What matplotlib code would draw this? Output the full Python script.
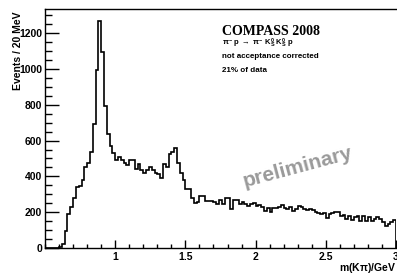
import numpy as np
import matplotlib
matplotlib.use("Agg")
import matplotlib.pyplot as plt
from matplotlib.ticker import MultipleLocator, FixedLocator

plt.rcParams['font.family'] = ['Liberation Sans', 'DejaVu Sans']
plt.rcParams['mathtext.fontset'] = 'custom'
plt.rcParams['mathtext.rm'] = 'Liberation Sans:bold'
plt.rcParams['mathtext.it'] = 'Liberation Sans:bold'
plt.rcParams['mathtext.bf'] = 'Liberation Sans:bold'

# binning of the histogram (GeV)
mass_low = 0.5
mass_high = 3.0
n_bins = 125

# events per 20 MeV bin
counts = [
    0, 0, 0, 0, 0, 8, 25, 97, 192, 229,
    282, 338, 345, 378, 453, 477, 535, 693, 997, 1268,
    1096, 792, 636, 568, 531, 494, 509, 494, 475, 464,
    490, 490, 444, 470, 434, 420, 437, 453, 434, 420,
    416, 391, 470, 453, 526, 535, 561, 472, 421, 378,
    330, 330, 282, 253, 257, 289, 290, 260, 263, 262,
    257, 248, 268, 246, 278, 282, 220, 270, 267, 248,
    257, 244, 233, 248, 254, 235, 239, 229, 205, 224,
    201, 226, 226, 229, 240, 226, 220, 229, 205, 220,
    236, 229, 216, 211, 220, 211, 201, 198, 192, 196,
    170, 192, 196, 201, 201, 177, 183, 164, 181, 155,
    173, 177, 151, 177, 151, 173, 151, 164, 173, 164,
    146, 121, 132, 146, 155,
]

x_ticks = [1.0, 1.5, 2.0, 2.5, 3.0]
x_tick_labels = ["1", "1.5", "2", "2.5", "3"]
y_ticks = [0, 200, 400, 600, 800, 1000, 1200]
y_tick_labels = ["0", "200", "400", "600", "800", "1000", "1200"]

edges = np.linspace(mass_low, mass_high, n_bins + 1)

fig = plt.figure(figsize=(3.97, 2.74), dpi=100)
ax = fig.add_axes([45 / 397, 1 - 248 / 274, 351 / 397, (248 - 9) / 274])

ax.stairs(counts, edges, color='black', linewidth=1.2, baseline=0)

ax.set_xlim(mass_low, mass_high)
ax.set_ylim(0, 1335)

ax.xaxis.set_major_locator(FixedLocator(x_ticks))
ax.set_xticklabels(x_tick_labels)
ax.xaxis.set_minor_locator(MultipleLocator(0.1))
ax.yaxis.set_major_locator(FixedLocator(y_ticks))
ax.set_yticklabels(y_tick_labels)
ax.yaxis.set_minor_locator(MultipleLocator(50))

ax.tick_params(axis='x', which='major', direction='in', length=6, width=1.0,
               labelsize=7.5, pad=3, top=False)
ax.tick_params(axis='x', which='minor', direction='in', length=3, width=1.0, top=False)
ax.tick_params(axis='y', which='major', direction='in', length=10, width=1.0,
               labelsize=7.5, pad=2, right=False)
ax.tick_params(axis='y', which='minor', direction='in', length=5, width=1.0, right=False)
for lab in ax.get_xticklabels() + ax.get_yticklabels():
    lab.set_fontweight('bold')

ax.spines['right'].set_visible(False)
for s in ['left', 'bottom', 'top']:
    ax.spines[s].set_linewidth(1.0)

fig.text(18 / 397, 1 - 12 / 274, "Events / 20 MeV", rotation=90, ha='center', va='top',
         fontsize=7.5, fontweight='bold')
fig.text(396 / 397, 1 - 268 / 274, r"m(K$\pi$)/GeV", ha='right', va='center',
         fontsize=7.5, fontweight='bold')

fig.text(222 / 397, 1 - 35 / 274, "COMPASS 2008", ha='left', va='baseline',
         fontsize=10, fontweight='bold', family='Liberation Serif')
fig.text(222 / 397, 1 - 46 / 274,
         r"$\pi^{-}$ p $\rightarrow$ $\pi^{-}$ K$^{0}_{S}$ K$^{0}_{S}$ p",
         ha='left', va='baseline', fontsize=5.5, fontweight='bold')
fig.text(222 / 397, 1 - 58 / 274, "not acceptance corrected", ha='left', va='baseline',
         fontsize=5.8, fontweight='bold')
fig.text(222 / 397, 1 - 72 / 274, "21% of data", ha='left', va='baseline',
         fontsize=5.8, fontweight='bold')

fig.text(298 / 397, 1 - 167 / 274, "preliminary", rotation=15, ha='center', va='center',
         fontsize=15, fontweight='bold', color='#9a9a9a', rotation_mode='anchor')

fig.savefig("out.png", dpi=100)
